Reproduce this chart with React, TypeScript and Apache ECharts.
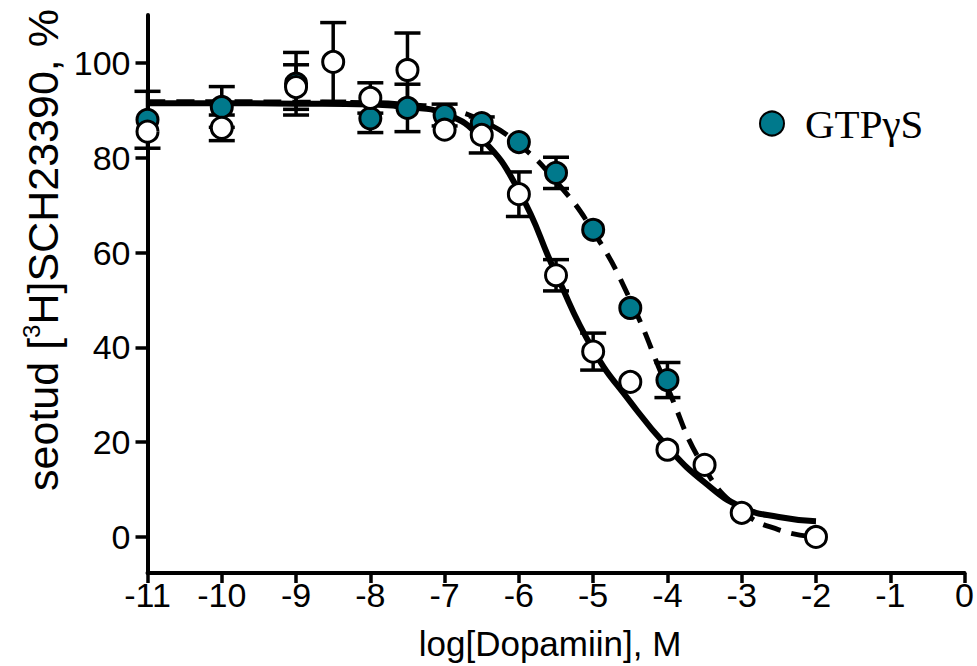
import React, { useEffect, useRef } from "react";
import * as echarts from "echarts";

// Axis ticks
const yTickValues = [0, 20, 40, 60, 80, 100];

// GTPγS (filled markers): log concentration, mean %, error
const gtpX = [-11, -10, -9, -8, -7.5, -7, -6.5, -6, -5.5, -5, -4.5, -4];
const gtpMean = [88, 90.7, 95.6, 88.3, 90.5, 89, 87.3, 83.3, 76.8, 64.8, 48.3, 33.1];
const gtpErr = [6, 4.3, 6.6, 3, 5, 2.3, 0, 0, 3.3, 0, 0, 3.7];

// Control (open markers)
const ctrlX = [-11, -10, -9, -8.5, -8, -7.5, -7, -6.5, -6, -5.5, -5, -4.5, -4, -3.5, -3, -2];
const ctrlMean = [85.5, 86.3, 94.9, 100.2, 92.6, 98.5, 85.9, 84.8, 72.3, 55.2, 39.1, 32.7, 18.4, 15.2, 5.1, 0];
const ctrlErr = [0, 2.7, 4.7, 8.3, 3.2, 7.8, 0, 3.8, 4.7, 3.3, 3.9, 0, 0, 0, 0, 0];

// Fitted curves, sampled along log concentration
const fitX = [-11, -10, -9, -8, -7.5, -7, -6.5, -6, -5.5, -5, -4.5, -4, -3.5, -3, -2.5, -2];
const fitCtrl = [91.5, 91.5, 91.4, 91.2, 90.7, 89.3, 84, 73, 55.5, 39.5, 28.5, 19, 11.5, 6.3, 4.2, 3.3];
const fitGtp = [91.8, 91.8, 91.7, 91.6, 91.2, 90.3, 87.8, 82.8, 75, 64.5, 50, 31.5, 14.5, 5.5, 1.5, 0];

const TEAL = "#00798c";
const SANS = 'Arial, "Liberation Sans", Helvetica, sans-serif';
const SERIF = '"Times New Roman", "Liberation Serif", serif';

const zip = (xs: number[], ys: number[]) => xs.map((x, i) => [x, ys[i]]);
const zip3 = (xs: number[], ys: number[], es: number[]) => xs.map((x, i) => [x, ys[i], es[i]]);

const errorBarRender = (params: any, api: any) => {
  const x = api.value(0);
  const m = api.value(1);
  const e = api.value(2);
  if (!e) return { type: "group", children: [] };
  const top = api.coord([x, m + e]);
  const bot = api.coord([x, m - e]);
  const w = 13;
  const style = { stroke: "#000", lineWidth: 3.5 };
  return {
    type: "group",
    children: [
      { type: "line", shape: { x1: top[0], y1: top[1], x2: bot[0], y2: bot[1] }, style },
      { type: "line", shape: { x1: top[0] - w, y1: top[1], x2: top[0] + w, y2: top[1] }, style },
      { type: "line", shape: { x1: bot[0] - w, y1: bot[1], x2: bot[0] + w, y2: bot[1] }, style },
    ],
  };
};

export default function App() {
  const ref = useRef<HTMLDivElement>(null);

  useEffect(() => {
    if (!ref.current) return;
    const chart = echarts.init(ref.current, null, { renderer: "svg" });
    chart.setOption({
      animation: false,
      backgroundColor: "#fff",
      grid: { left: 147.5, right: 10.5, top: 15, bottom: 93 },
      legend: {
        data: ["GTPγS"],
        left: 759,
        top: 103,
        padding: 0,
        icon: "circle",
        itemWidth: 56,
        itemHeight: 24,
        textStyle: { fontFamily: SERIF, fontSize: 41, color: "#000" },
      },
      xAxis: {
        type: "value",
        min: -11,
        max: 0,
        interval: 1,
        axisLine: { onZero: false, lineStyle: { color: "#000", width: 4 } },
        axisTick: { length: 10, lineStyle: { color: "#000", width: 3.5 } },
        axisLabel: { color: "#000", fontSize: 34, fontFamily: SANS, margin: 5 },
        splitLine: { show: false },
      },
      yAxis: {
        type: "value",
        min: -7.6,
        max: 110.1,
        axisLine: { onZero: false, lineStyle: { color: "#000", width: 4 } },
        axisTick: { length: 12, customValues: yTickValues, lineStyle: { color: "#000", width: 3.5 } },
        axisLabel: { color: "#000", fontSize: 34, fontFamily: SANS, margin: 17, customValues: yTickValues },
        splitLine: { show: false },
      },
      graphic: [
        {
          type: "text",
          x: 43,
          y: 250,
          rotation: Math.PI / 2,
          style: {
            text: "{a|seotud [}{s|3}{a|H]SCH23390, %}",
            align: "center",
            verticalAlign: "middle",
            fill: "#000",
            rich: {
              a: { fontFamily: SANS, fontSize: 43, lineHeight: 48, fill: "#000" },
              s: { fontFamily: SANS, fontSize: 24, lineHeight: 24, verticalAlign: "top", fill: "#000" },
            },
          },
        },
        {
          type: "text",
          x: 550,
          y: 643,
          style: {
            text: "log[Dopamiin], M",
            align: "center",
            verticalAlign: "middle",
            fontFamily: SANS,
            fontSize: 35,
            fill: "#000",
          },
        },
      ],
      series: [
        {
          name: "GTPγS fit",
          type: "line",
          data: zip(fitX, fitGtp),
          smooth: 0.5,
          showSymbol: false,
          silent: true,
          z: 1,
          lineStyle: { color: "#000", width: 5, type: [18, 11] },
        },
        {
          name: "Kontroll fit",
          type: "line",
          data: zip(fitX, fitCtrl),
          smooth: 0.5,
          showSymbol: false,
          silent: true,
          z: 1,
          lineStyle: { color: "#000", width: 6 },
        },
        {
          name: "GTPγS err",
          type: "custom",
          renderItem: errorBarRender,
          data: zip3(gtpX, gtpMean, gtpErr),
          z: 2,
          silent: true,
        },
        {
          name: "Kontroll err",
          type: "custom",
          renderItem: errorBarRender,
          data: zip3(ctrlX, ctrlMean, ctrlErr),
          z: 2,
          silent: true,
        },
        {
          name: "GTPγS",
          type: "scatter",
          data: zip(gtpX, gtpMean),
          symbol: "circle",
          symbolSize: 21,
          z: 3,
          itemStyle: { color: TEAL, borderColor: "#000", borderWidth: 3, opacity: 1 },
        },
        {
          name: "Kontroll",
          type: "scatter",
          data: zip(ctrlX, ctrlMean),
          symbol: "circle",
          symbolSize: 21,
          z: 4,
          itemStyle: { color: "#fff", borderColor: "#000", borderWidth: 3, opacity: 1 },
        },
      ],
    });
    return () => chart.dispose();
  }, []);

  return (
    <div
      ref={ref}
      style={{ position: "fixed", left: 0, top: 0, width: 977, height: 666, background: "#fff" }}
    />
  );
}
